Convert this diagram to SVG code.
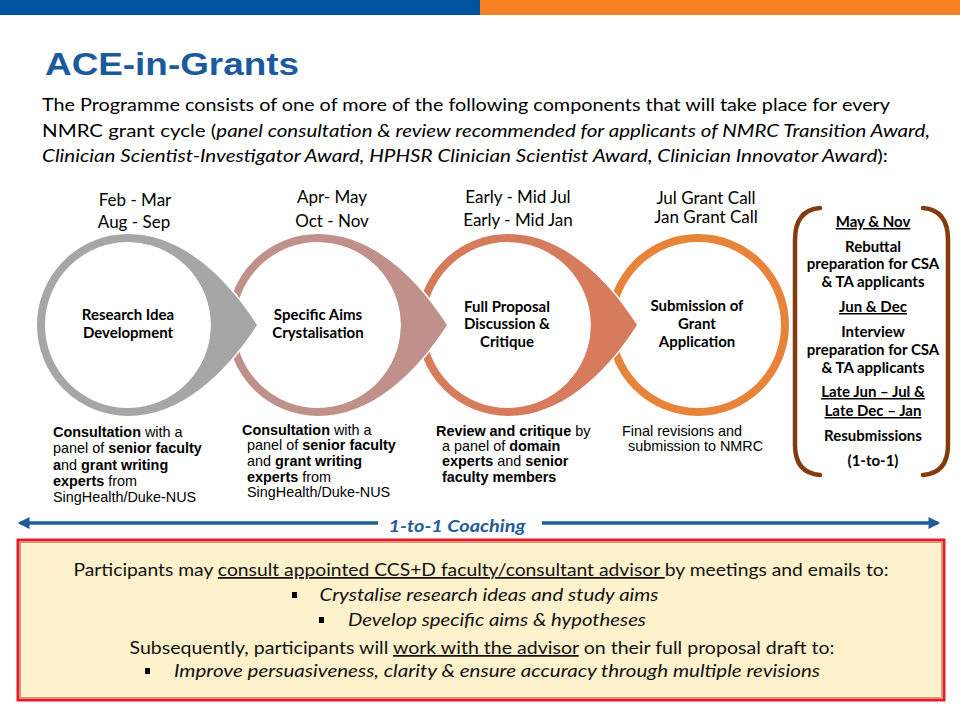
<svg xmlns="http://www.w3.org/2000/svg" width="960" height="720" viewBox="0 0 960 720">
<defs>
<style>
.cal{font-family:Lato,"Open Sans","Liberation Sans",sans-serif;}
.ar{font-family:"Liberation Sans",Arial,sans-serif;font-size:14.4px;fill:#000;}
.date{font-family:Lato,"Liberation Sans",sans-serif;font-size:17px;fill:#000;text-anchor:middle;}
.ctext{font-family:Lato,"Liberation Sans",sans-serif;font-size:15px;font-weight:bold;fill:#000;text-anchor:middle;}
.br{font-family:Lato,"Liberation Sans",sans-serif;font-size:15px;font-weight:bold;fill:#000;text-anchor:middle;}
.b{font-weight:bold;}
.i{font-style:italic;}
.u{text-decoration:underline;}
.ring{fill:none;stroke-width:8;}
.halo{fill:none;stroke:#fff;stroke-width:3;}
.coach{stroke:#1F5C99;stroke-width:3.5;fill:none;}
.box{font-family:Lato,"Open Sans",sans-serif;font-size:17.5px;fill:#111;text-anchor:middle;}
</style>
<marker id="ah" viewBox="0 0 10 10" refX="8" refY="5" markerWidth="4" markerHeight="3.4" orient="auto-start-reverse" markerUnits="strokeWidth">
<path d="M0,0 L10,5 L0,10 Z" fill="#1F5C99"/>
</marker>
</defs>
<rect x="0" y="0" width="960" height="720" fill="#fff"/>
<rect x="0" y="0" width="480" height="15" fill="#00539F"/>
<rect x="480" y="0" width="480" height="15" fill="#F58220"/>
<text x="45" y="75" font-family="Liberation Sans,Arial,sans-serif" font-size="32" font-weight="bold" fill="#1C5A9E" textLength="254" lengthAdjust="spacingAndGlyphs">ACE-in-Grants</text>
<g class="cal" font-size="18" fill="#000">
<text x="42" y="111" textLength="848" lengthAdjust="spacingAndGlyphs">The Programme consists of one of more of the following components that will take place for every</text>
<text x="42" y="137" textLength="888" lengthAdjust="spacingAndGlyphs">NMRC grant cycle (<tspan class="i">panel consultation &amp; review recommended for applicants of NMRC Transition Award,</tspan></text>
<text x="42" y="162" textLength="846" lengthAdjust="spacingAndGlyphs"><tspan class="i">Clinician Scientist-Investigator Award, HPHSR Clinician Scientist Award, Clinician Innovator Award</tspan>):</text>
</g>

<g id="node4">
<circle class="ring" cx="698" cy="325" r="87" stroke="#E8833A"/>
<text class="date" x="706" y="204">Jul Grant Call</text>
<text class="date" x="706" y="223">Jan Grant Call</text>
<text class="ctext" x="697" y="311">Submission of</text>
<text class="ctext" x="697" y="329">Grant</text>
<text class="ctext" x="697" y="347">Application</text>
<text class="ar" x="622" y="436">Final revisions and</text>
<text class="ar" x="628" y="451">submission to NMRC</text>
</g>
<g id="node3">
<circle class="ring" cx="508" cy="325" r="87" stroke="#D67B5C"/>
<path class="halo" d="M508,234 C560,234 605,275 637,325 C605,375 560,416 508,416"/>
<path fill="#D67B5C" d="M508,234 C560,234 605,275 637,325 C605,375 560,416 508,416 L508,408 A83,83 0 0 0 508,242 Z"/>
<text class="date" x="518" y="203">Early - Mid Jul</text>
<text class="date" x="518" y="226">Early - Mid Jan</text>
<text class="ctext" x="507" y="312">Full Proposal</text>
<text class="ctext" x="507" y="329">Discussion &amp;</text>
<text class="ctext" x="507" y="347">Critique</text>
<text class="ar" x="436" y="436"><tspan class="b">Review and critique</tspan> by</text>
<text class="ar" x="442" y="451">a panel of <tspan class="b">domain</tspan></text>
<text class="ar" x="442" y="466"><tspan class="b">experts</tspan> and <tspan class="b">senior</tspan></text>
<text class="ar b" x="442" y="482">faculty members</text>
</g>
<g id="node2">
<circle class="ring" cx="318" cy="325" r="87" stroke="#C0908A"/>
<path class="halo" d="M318,234 C370,234 415,275 447,325 C415,375 370,416 318,416"/>
<path fill="#C0908A" d="M318,234 C370,234 415,275 447,325 C415,375 370,416 318,416 L318,408 A83,83 0 0 0 318,242 Z"/>
<text class="date" x="332" y="203">Apr- May</text>
<text class="date" x="332" y="227">Oct - Nov</text>
<text class="ctext" x="318" y="320">Specific Aims</text>
<text class="ctext" x="318" y="338">Crystalisation</text>
<text class="ar" x="242" y="435"><tspan class="b">Consultation</tspan> with a</text>
<text class="ar" x="247" y="450">panel of <tspan class="b">senior faculty</tspan></text>
<text class="ar" x="247" y="466">and <tspan class="b">grant writing</tspan></text>
<text class="ar" x="247" y="482"><tspan class="b">experts</tspan> from</text>
<text class="ar" x="247" y="497">SingHealth/Duke-NUS</text>
</g>
<g id="node1">
<circle class="ring" cx="128" cy="325" r="87" stroke="#A6A6A6"/>
<path class="halo" d="M128,234 C180,234 225,275 257,325 C225,375 180,416 128,416"/>
<path fill="#A6A6A6" d="M128,234 C180,234 225,275 257,325 C225,375 180,416 128,416 L128,408 A83,83 0 0 0 128,242 Z"/>
<text class="date" x="135" y="206">Feb - Mar</text>
<text class="date" x="134" y="228">Aug - Sep</text>
<text class="ctext" x="128" y="320">Research Idea</text>
<text class="ctext" x="128" y="338">Development</text>
<text class="ar" x="53" y="437"><tspan class="b">Consultation</tspan> with a</text>
<text class="ar" x="53" y="453">panel of <tspan class="b">senior faculty</tspan></text>
<text class="ar" x="53" y="470"><tspan class="b">a</tspan>nd <tspan class="b">grant writing</tspan></text>
<text class="ar" x="53" y="486"><tspan class="b">experts</tspan> from</text>
<text class="ar" x="53" y="502">SingHealth/Duke-NUS</text>
</g>

<g id="node5">
<path d="M820,208 Q795,210 795,240 L795,445 Q795,473 820,475" fill="none" stroke="#843C0C" stroke-width="4.5" stroke-linecap="round"/>
<path d="M923,208 Q948,210 948,240 L948,445 Q948,473 923,475" fill="none" stroke="#843C0C" stroke-width="4.5" stroke-linecap="round"/>
<text class="br u" x="873" y="227">May &amp; Nov</text>
<text class="br" x="873" y="252">Rebuttal</text>
<text class="br" x="873" y="269">preparation for CSA</text>
<text class="br" x="873" y="287">&amp; TA applicants</text>
<text class="br u" x="873" y="312">Jun &amp; Dec</text>
<text class="br" x="873" y="337">Interview</text>
<text class="br" x="873" y="355">preparation for CSA</text>
<text class="br" x="873" y="373">&amp; TA applicants</text>
<text class="br u" x="873" y="397">Late Jun – Jul &amp;</text>
<text class="br u" x="873" y="416">Late Dec – Jan</text>
<text class="br" x="873" y="441">Resubmissions</text>
<text class="br" x="873" y="466">(1-to-1)</text>
</g>

<g id="connectors">
<line class="coach" x1="378" y1="523" x2="20" y2="523" marker-end="url(#ah)"/>
<line class="coach" x1="542" y1="523" x2="938" y2="523" marker-end="url(#ah)"/>
<text x="457" y="532" text-anchor="middle" font-family="Lato,'Open Sans',sans-serif" font-size="17.5" font-weight="bold" font-style="italic" fill="#1F5C99" textLength="137" lengthAdjust="spacingAndGlyphs">1-to-1 Coaching</text>
</g>

<g id="infobox">
<rect x="18" y="540" width="926" height="160" fill="#FEF2CC" stroke="#E41E26" stroke-width="3"/>
<rect x="20.5" y="542.5" width="921" height="155" fill="none" stroke="#8B1A1A" stroke-width="0.8" opacity="0.5"/>
<text class="box" x="481" y="576" textLength="815" lengthAdjust="spacingAndGlyphs">Participants may <tspan class="u">consult appointed CCS+D faculty/consultant advisor </tspan>by meetings and emails to:</text>
<rect x="292" y="592" width="5" height="6" fill="#000"/>
<text class="box i" x="489" y="601" textLength="339" lengthAdjust="spacingAndGlyphs">Crystalise research ideas and study aims</text>
<rect x="319" y="617" width="5" height="6" fill="#000"/>
<text class="box i" x="497" y="626" textLength="298" lengthAdjust="spacingAndGlyphs">Develop specific aims &amp; hypotheses</text>
<text class="box" x="482" y="654" textLength="705" lengthAdjust="spacingAndGlyphs">Subsequently,  participants will <tspan class="u">work with the advisor</tspan> on their full proposal draft to:</text>
<rect x="145" y="668" width="5" height="6" fill="#000"/>
<text class="box i" x="497" y="677" textLength="646" lengthAdjust="spacingAndGlyphs">Improve persuasiveness, clarity &amp; ensure accuracy through multiple revisions</text>
</g>
</svg>
